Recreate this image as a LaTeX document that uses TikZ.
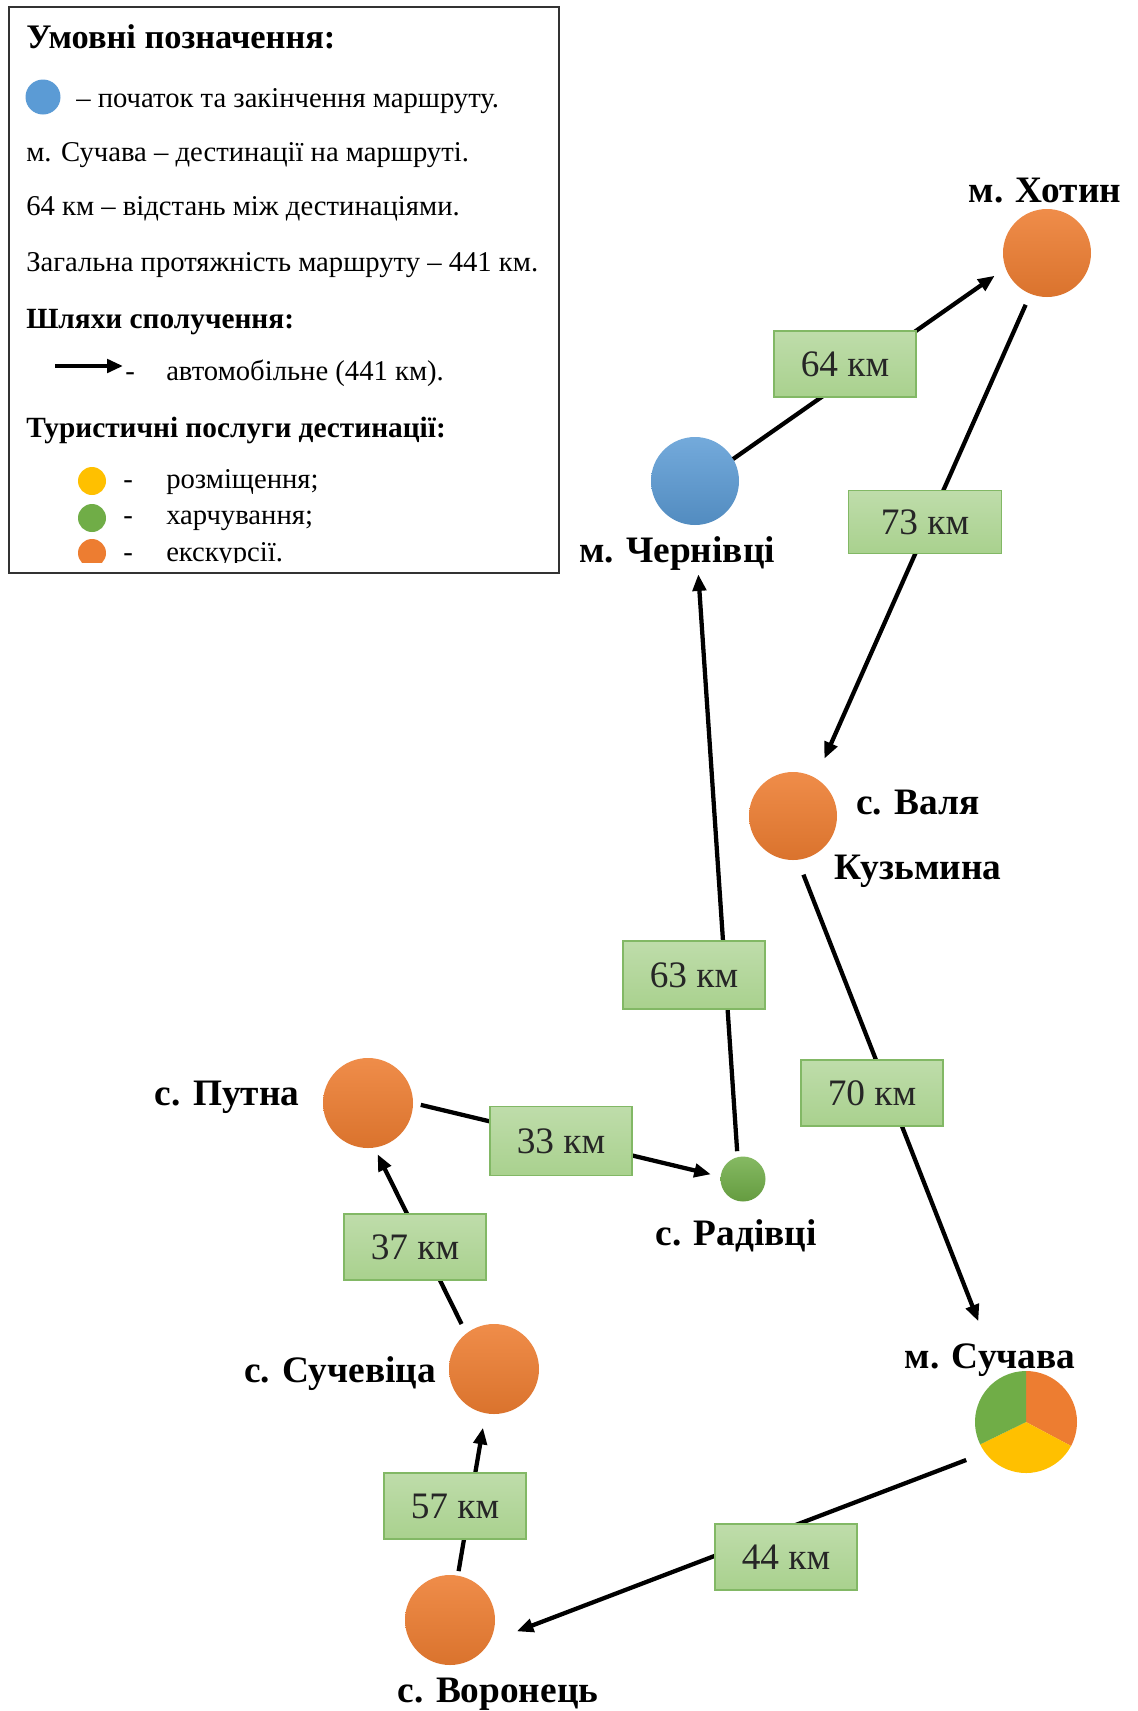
\documentclass[tikz,border=0pt]{standalone}
\usepackage{fontspec}
\setmainfont{Liberation Serif}
\usetikzlibrary{arrows.meta}
\definecolor{cblue}{HTML}{5B9BD5}
\definecolor{corange}{HTML}{ED7D31}
\definecolor{cgreen}{HTML}{70AD47}
\definecolor{cyellow}{HTML}{FFC000}
\definecolor{boxfill}{HTML}{A9D18E}
\definecolor{boxline}{HTML}{82B865}
\begin{document}
\begin{tikzpicture}[x=0.75pt,y=-0.75pt,
  dest/.style={circle, inner sep=0pt, outer sep=0pt, minimum size=#1},
  odest/.style={dest=#1, top color=corange!88!white, bottom color=corange!92!black, draw=none},
  route/.style={line width=3.2pt, -{Triangle[length=12.5pt,width=10pt]}},
  kmbox/.style={draw=boxline, line width=0.8pt, top color=boxfill!75!white, bottom color=boxfill,
    minimum width=106.5pt, minimum height=49.5pt, inner sep=0pt, font=\fontsize{28}{30}\selectfont, text=black!85},
  place/.style={font=\fontsize{28}{34}\selectfont\bfseries, inner sep=0pt, anchor=mid},
  legtext/.style={font=\fontsize{21.5}{26}\selectfont, inner sep=0pt, anchor=mid west},
  leghead/.style={font=\fontsize{22}{26}\selectfont\bfseries, inner sep=0pt, anchor=mid west}
]
\useasboundingbox (0,0) rectangle (1138,1711);
\fill[white] (0,0) rectangle (1138,1711);

% ---------- legend ----------
\begin{scope}
\clip (9,7) rectangle (559,562);
\node[leghead, font=\fontsize{25.8}{30}\selectfont\bfseries] (lh1) at (26,45) {Умовні позначення:};
\node[dest=26.25pt, fill=cblue] (lblue) at (43,97) {};
\node[legtext] (l1) at (76,104) {– початок та закінчення маршруту.};
\node[legtext] (l2) at (26,158) {м. Сучава – дестинації на маршруті.};
\node[legtext] (l3) at (26,212) {64 км – відстань між дестинаціями.};
\node[legtext] (l4) at (26,268) {Загальна протяжність маршруту – 441 км.};
\node[leghead] (lh2) at (26,325) {Шляхи сполучення:};
\coordinate (la1) at (55,366);
\coordinate (la2) at (123,366);
\draw[line width=3pt, -{Triangle[length=12pt,width=10pt]}] (la1) -- (la2);
\node[legtext] (ld0) at (125,377) {-};
\node[legtext] (l5) at (166,377) {автомобільне (441 км).};
\node[leghead] (lh3) at (26,434) {Туристичні послуги дестинації:};
\node[dest=21pt, fill=cyellow] (ly) at (92,481) {};
\node[legtext] (ld1) at (123,485) {-};
\node[legtext] (l6) at (166,485) {розміщення;};
\node[dest=21pt, fill=cgreen] (lg) at (92,518) {};
\node[legtext] (ld2) at (123,521) {-};
\node[legtext] (l7) at (166,521) {харчування;};
\node[dest=21pt, fill=corange] (lo) at (92,553) {};
\node[legtext] (ld3) at (123,558) {-};
\node[legtext] (l8) at (166,558) {екскурсії.};
\end{scope}
\draw[line width=1.4pt, black!80] (9,7) rectangle (559,573);

% ---------- destinations ----------
\node[dest=66pt, top color=cblue!85!white, bottom color=cblue!90!black] (chernivtsi) at (695,481) {};
\node[odest=66pt] (khotyn) at (1047,253) {};
\node[odest=66pt] (valia) at (793,816) {};
\node[odest=67.5pt] (putna) at (368,1103) {};
\node[dest=33.75pt, top color=cgreen!85!white, bottom color=cgreen!90!black] (radivtsi) at (743,1179) {};
\node[odest=67.5pt] (suchevytsia) at (494,1369) {};
\node[odest=67.5pt] (voronets) at (450,1620) {};
\node[dest=76.5pt] (suchava) at (1026,1422) {};
\fill[corange] (suchava.center) -- ++(90:38.25pt) arc[start angle=90, end angle=-28, radius=38.25pt] -- cycle;
\fill[cyellow] (suchava.center) -- ++(-28:38.25pt) arc[start angle=-28, end angle=-154, radius=38.25pt] -- cycle;
\fill[cgreen] (suchava.center) -- ++(206:38.25pt) arc[start angle=206, end angle=90, radius=38.25pt] -- cycle;

% ---------- labels ----------
\node[place] (tkhotyn) at (1045,199) {м. Хотин};
\node[place] (tchernivtsi) at (677,559) {м. Чернівці};
\node[place, align=center, anchor=center, font=\fontsize{28}{48.75}\selectfont\bfseries] (tvalia) at (918,839) {с. Валя\\Кузьмина};
\node[place] (tputna) at (227,1102) {с. Путна};
\node[place] (tradivtsi) at (736,1242) {с. Радівці};
\node[place] (tsuchevytsia) at (340,1379) {с. Сучевіца};
\node[place] (tsuchava) at (990,1365) {м. Сучава};
\node[place] (tvoronets) at (498,1699) {с. Воронець};

% ---------- routes ----------
\draw[route, shorten >=10pt] (chernivtsi.30) -- (khotyn.200);
\draw[route, shorten <=9pt, shorten >=16pt] (khotyn.248) -- (valia.59.5);
\draw[route, shorten <=12pt, shorten >=45.5pt] (valia.-84) -- (suchava.120.7);
\draw[route, shorten <=15.3pt, shorten >=22pt] (suchava.217) -- (voronets.-29);
\draw[route, shorten <=3.5pt, shorten >=11pt] (voronets.80.7) -- (suchevytsia.259.4);
\draw[route, shorten <=8pt, shorten >=5.5pt] (suchevytsia.128.5) -- (putna.-82.3);
\draw[route, shorten <=6pt, shorten >=7.5pt] (putna.0) -- (radivtsi.174.6);
\draw[route, shorten <=4.5pt, shorten >=37pt] (radivtsi.104.5) -- (chernivtsi.-90);

% ---------- distance boxes ----------
\node[kmbox] (k64) at (845,364) {64 км};
\node[kmbox, minimum width=115pt, minimum height=47pt] (k73) at (925,522) {73 км};
\node[kmbox, minimum height=51pt] (k63) at (694,975) {63 км};
\node[kmbox] (k70) at (872,1093) {70 км};
\node[kmbox, minimum height=52pt] (k33) at (561,1141) {33 км};
\node[kmbox] (k37) at (415,1247) {37 км};
\node[kmbox] (k57) at (455,1506) {57 км};
\node[kmbox] (k44) at (786,1557) {44 км};
\end{tikzpicture}
\end{document}
